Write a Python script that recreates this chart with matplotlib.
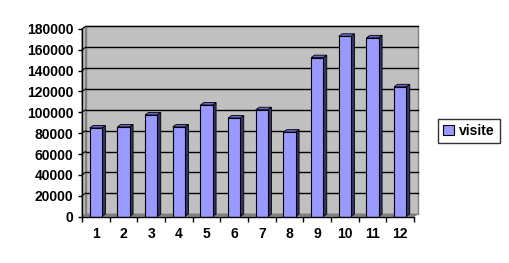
import matplotlib
matplotlib.use('Agg')
import matplotlib.pyplot as plt
from matplotlib.patches import Rectangle, Polygon, Patch
from matplotlib.lines import Line2D

months = [str(i) for i in range(1, 13)]
visite = [85000, 86000, 97500, 86000, 107000, 94500, 102500, 81000, 152500, 173000, 171500, 124500]
yticks = list(range(0, 180001, 20000))
series_name = 'visite'

W, H = 509, 263
fig = plt.figure(figsize=(W / 100, H / 100), dpi=100)
fig.patch.set_facecolor('white')
L, R, T, B = 82, 414, 29, 216.5
ax = fig.add_axes([L / W, 1 - B / H, (R - L) / W, (B - T) / H])
ymax = 180000
ax.set_xlim(0.5, 12.5)
ax.set_ylim(0, ymax)
ax.patch.set_visible(False)

dpx, dpy = 3.5, 2.5
ox = dpx / (R - L)
oy = dpy / (B - T)

# back wall
ax.add_patch(Rectangle((ox, oy), 1, 1, transform=ax.transAxes, fc='#c0c0c0',
                       ec='#808080', lw=1, zorder=0, clip_on=False))
# left side wall
ax.add_patch(Polygon([(0, 0), (ox, oy), (ox, 1 + oy), (0, 1)], closed=True,
                     transform=ax.transAxes, fc='#c0c0c0', ec='#808080', lw=0.8,
                     zorder=0.1, clip_on=False))
# floor
ax.add_patch(Polygon([(0, 0), (ox, oy), (1 + ox, oy), (1, 0)], closed=True,
                     transform=ax.transAxes, fc='#808080', ec='#808080', lw=0.5,
                     zorder=0.2, clip_on=False))
# gridlines
for t in yticks[1:]:
    ya = t / ymax
    ax.add_line(Line2D([ox, 1 + ox], [ya + oy, ya + oy], transform=ax.transAxes,
                       color='black', lw=1, zorder=0.5, clip_on=False))
    ax.add_line(Line2D([0, ox], [ya, ya + oy], transform=ax.transAxes,
                       color='black', lw=0.8, zorder=0.5, clip_on=False))

# bars
xs = list(range(1, 13))
w = 0.44
oxd = ox * 12
oyd = oy * ymax
ax.bar(xs, visite, width=w, color='#9999ff', edgecolor='black', lw=0.8, zorder=3)
for x, v in zip(xs, visite):
    xl, xr = x - w / 2, x + w / 2
    ax.add_patch(Polygon([(xr, 0), (xr + oxd, oyd), (xr + oxd, v + oyd), (xr, v)],
                         closed=True, fc='#333366', ec='black', lw=0.6, zorder=2.9,
                         clip_on=False))
    ax.add_patch(Polygon([(xl, v), (xl + oxd, v + oyd), (xr + oxd, v + oyd), (xr, v)],
                         closed=True, fc='#6666cc', ec='black', lw=0.6, zorder=2.9,
                         clip_on=False))

for s in ['top', 'right']:
    ax.spines[s].set_visible(False)
for s in ['left', 'bottom']:
    ax.spines[s].set_color('black')
    ax.spines[s].set_linewidth(1)
    ax.spines[s].set_zorder(4)

fp = dict(family='Liberation Sans', weight='bold', size=10)
ax.set_yticks(yticks)
ax.set_yticklabels([str(t) for t in yticks], fontdict=fp)
ax.tick_params(axis='y', direction='out', length=3, width=1, pad=3.2, colors='black')
ax.set_xticks(xs)
ax.set_xticklabels(months, fontdict=fp)
ax.set_xticks([i + 0.5 for i in range(0, 13)], minor=True)
ax.tick_params(axis='x', which='major', length=0, pad=7.5)
ax.tick_params(axis='x', which='minor', direction='out', length=3.5, width=1)

h = Patch(fc='#9999ff', ec='black', lw=0.8, label=series_name)
leg = fig.legend(handles=[h], loc='center', bbox_to_anchor=((439 + 499) / 2 / W, 1 - 131 / H),
                 prop=fp, frameon=True, fancybox=False, handlelength=0.75, handleheight=0.75,
                 handletextpad=0.4, borderpad=0.35, borderaxespad=0)
leg.get_frame().set_edgecolor('black')
leg.get_frame().set_linewidth(1)

fig.savefig('out.png', dpi=100, facecolor='white')
